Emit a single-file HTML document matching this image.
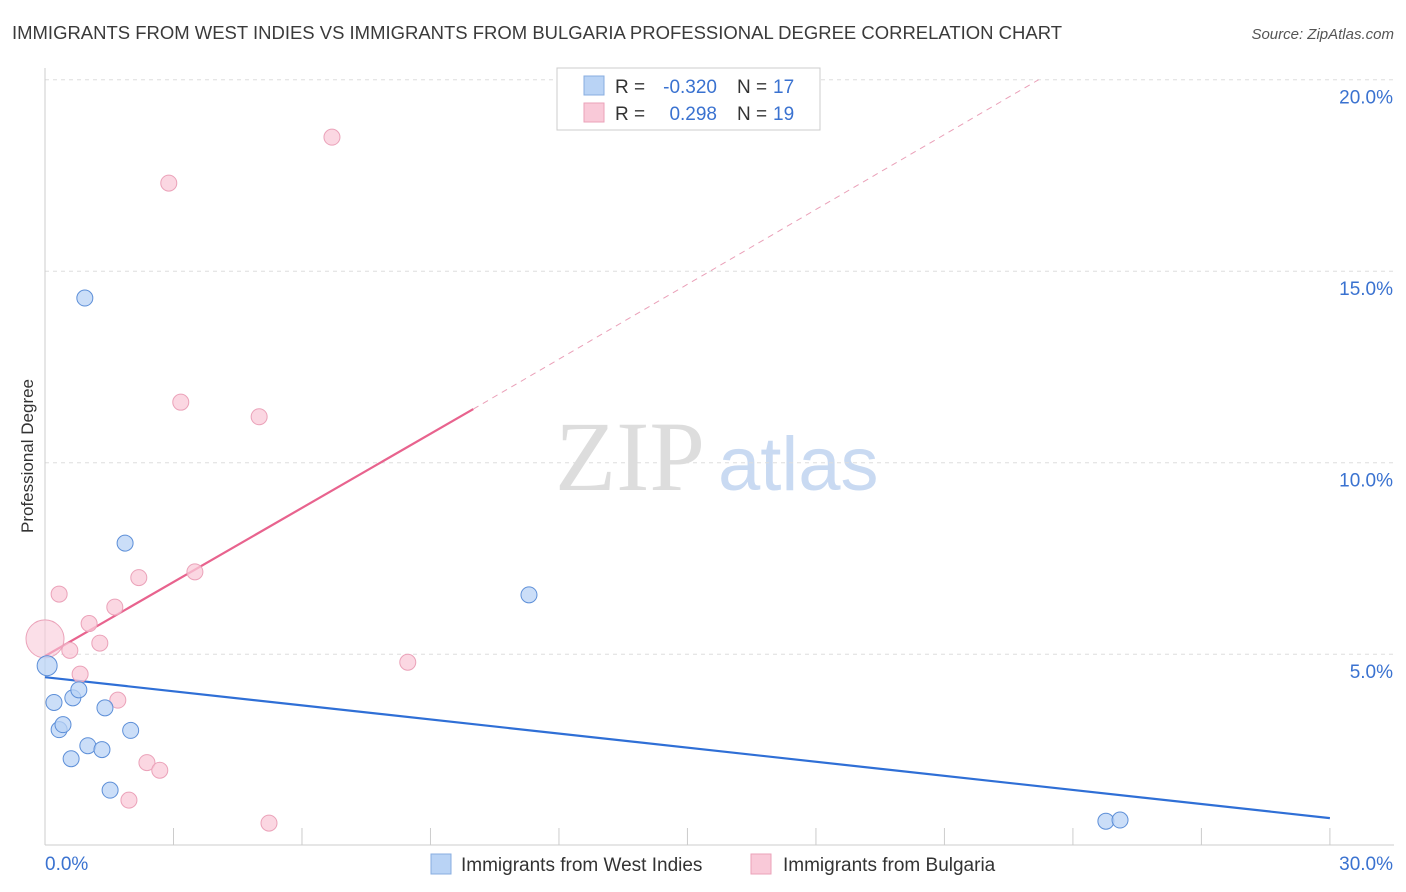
<!DOCTYPE html>
<html><head><meta charset="utf-8"><style>
body{margin:0;background:#fff;font-family:"Liberation Sans",sans-serif;}
svg{display:block}
</style></head><body>
<svg id="chart" width="1406" height="892" xmlns="http://www.w3.org/2000/svg">
<text x="12" y="39" font-size="18" fill="#3a3a3a" textLength="1050" lengthAdjust="spacingAndGlyphs">IMMIGRANTS FROM WEST INDIES VS IMMIGRANTS FROM BULGARIA PROFESSIONAL DEGREE CORRELATION CHART</text>
<text x="1394" y="39" font-size="15" fill="#555" text-anchor="end" font-style="italic">Source: ZipAtlas.com</text>
<text x="555" y="490" font-size="100" fill="#ddd" font-family="Liberation Serif, serif">ZIP</text>
<text x="718" y="490" font-size="76" fill="#c9daf2">atlas</text>
<text transform="translate(33,456) rotate(-90)" font-size="17" fill="#333" text-anchor="middle">Professional Degree</text>
<g id="grid"></g><g id="ticks"></g><g id="lines"></g><g id="points"></g>
<g font-size="19">
<rect x="557" y="68" width="263" height="62" fill="#fff" stroke="#ccc"/>
<rect x="584" y="76" width="20" height="19" fill="#b9d3f5" stroke="#88aee0"/>
<text x="615" y="93" fill="#333">R =</text>
<text x="717" y="93" fill="#3a72d0" text-anchor="end">-0.320</text>
<text x="737" y="93" fill="#333">N =</text>
<text x="773" y="93" fill="#3a72d0">17</text>
<rect x="584" y="103" width="20" height="19" fill="#f9c9d8" stroke="#eba2b9"/>
<text x="615" y="120" fill="#333">R =</text>
<text x="717" y="120" fill="#3a72d0" text-anchor="end">0.298</text>
<text x="737" y="120" fill="#333">N =</text>
<text x="773" y="120" fill="#3a72d0">19</text>
</g>
<g>
<rect x="431" y="854" width="20" height="20" fill="#b9d3f5" stroke="#88aee0"/>
<text x="461" y="871" font-size="19" fill="#333">Immigrants from West Indies</text>
<rect x="751" y="854" width="20" height="20" fill="#f9c9d8" stroke="#eba2b9"/>
<text x="783" y="871" font-size="19" fill="#333">Immigrants from Bulgaria</text>
</g>
</svg>
<script>
const yTicks=[5,10,15,20];
const xTickLabels=["0.0%","30.0%"];
const blueX=[0.05,0.21,0.33,0.42,0.61,0.65,0.79,0.93,1.0,1.33,1.4,1.52,1.87,2.0,11.3,24.77,25.1];
const blueY=[4.7,3.74,3.03,3.16,2.27,3.86,4.07,14.3,2.61,2.51,3.6,1.45,7.9,3.01,6.55,0.64,0.67];
const pinkX=[0.0,0.33,0.58,0.82,1.03,1.28,1.63,1.7,2.19,2.38,2.68,1.96,2.89,3.17,3.5,5.0,5.23,6.7,8.47];
const pinkY=[5.4,6.57,5.1,4.48,5.8,5.29,6.23,3.8,7.0,2.17,1.97,1.19,17.3,11.58,7.15,11.2,0.59,18.5,4.79];
const blueLine=[0,4.4,30,0.72];
const pinkLine=[0,4.95,10,11.4,23.2,20];
const X=v=>45+v*42.83, Y=v=>845.7-v*38.3;
const NS="http://www.w3.org/2000/svg";
function mk(p,t,a){const e=document.createElementNS(NS,t);for(const k in a)e.setAttribute(k,a[k]);p.appendChild(e);return e;}
const grid=document.getElementById('grid'),ticks=document.getElementById('ticks'),lines=document.getElementById('lines'),pts=document.getElementById('points');
for(const t of yTicks){
 const l=mk(grid,'line',{x1:45,x2:1394,y1:Y(t),y2:Y(t),stroke:'#ddd','stroke-dasharray':'4,4'});
 
 
 const tx=mk(ticks,'text',{x:1393,y:Y(t)+24,'font-size':19,fill:'#3a72d0','text-anchor':'end'});tx.textContent=t.toFixed(1)+'%';
 
 
}
const ax=mk(grid,'line',{x1:45,x2:45,y1:68,y2:845,stroke:'#ccc'});


const bx=mk(grid,'line',{x1:45,x2:1394,y1:845,y2:845,stroke:'#ccc'});


for(let i=0;i<=10;i++){const t=mk(ticks,'line',{x1:X(i*3),x2:X(i*3),y1:828,y2:845,stroke:'#ccc'});
 
 }
const l0=mk(ticks,'text',{x:45,y:870,'font-size':19,fill:'#3a72d0'});l0.textContent=xTickLabels[0];


const l1=mk(ticks,'text',{x:1393,y:870,'font-size':19,fill:'#3a72d0','text-anchor':'end'});l1.textContent=xTickLabels[1];


const bl=mk(lines,'line',{x1:X(blueLine[0]),y1:Y(blueLine[1]),x2:X(blueLine[2]),y2:Y(blueLine[3]),stroke:'#2f6fd6','stroke-width':2.2});


const pl=mk(lines,'line',{x1:X(pinkLine[0]),y1:Y(pinkLine[1]),x2:X(pinkLine[2]),y2:Y(pinkLine[3]),stroke:'#e8638e','stroke-width':2.2});


const pd=mk(lines,'line',{x1:X(pinkLine[2]),y1:Y(pinkLine[3]),x2:X(pinkLine[4]),y2:Y(pinkLine[5]),stroke:'#eaa0b8','stroke-width':1,'stroke-dasharray':'6,5'});


pinkX.forEach((x,i)=>{const c=mk(pts,'circle',{cx:X(x),cy:Y(pinkY[i]),r:i==0?19:8,fill:'#f9c9d8','fill-opacity':i==0?0.6:0.75,stroke:'#eba2b9'});
 
 });
blueX.forEach((x,i)=>{const c=mk(pts,'circle',{cx:X(x),cy:Y(blueY[i]),r:i==0?10:8,fill:'#b9d3f5','fill-opacity':0.75,stroke:'#5d8fd8'});
 
 });
</script>
</body></html>
